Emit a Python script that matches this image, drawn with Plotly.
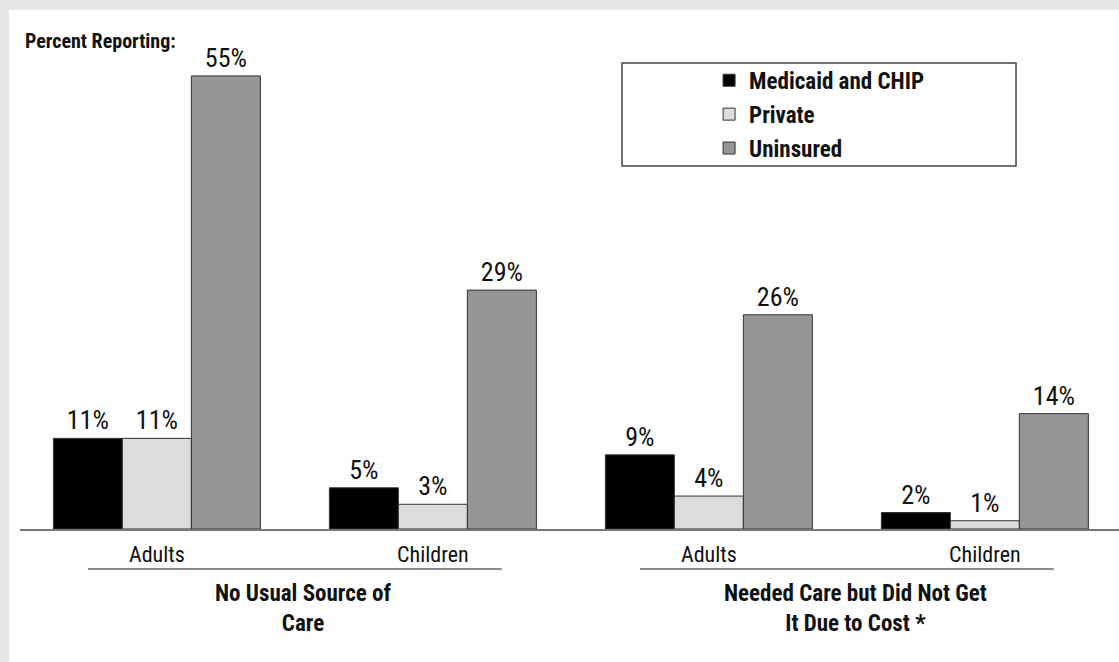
import plotly.graph_objects as go

categories = ["Adults", "Children", "Adults", "Children"]
series_names = ["Medicaid and CHIP", "Private", "Uninsured"]
medicaid = [11, 5, 9, 2]
private = [11, 3, 4, 1]
uninsured = [55, 29, 26, 14]
group_titles = ["No Usual Source of<br>Care", "Needed Care but Did Not Get<br>It Due to Cost *"]
group_centers = [0.5, 2.5]

colors = ["#000000", "#dcdcdc", "#969696"]
FONT = "Roboto Condensed, Liberation Sans Narrow, Arial Narrow, sans-serif"

W, H = 1119, 662
ML, MR, MT, MB = 20, 0, 10, 133
PW, PH = W - ML - MR, H - MT - MB

fig = go.Figure()
xs = list(range(len(categories)))
for i, (name, vals) in enumerate(zip(series_names, [medicaid, private, uninsured])):
    fig.add_trace(go.Bar(
        x=xs, y=vals, name=f"<b>{name}</b>",
        marker=dict(color=colors[i], line=dict(color="#333333", width=1)),
        text=[f"{v}%" for v in vals], textposition="outside",
        textfont=dict(family=FONT, size=26, color="#111111"),
        constraintext="none", cliponaxis=False,
        legendgroup=name,
    ))

shapes = [
    # white panel on gray frame
    dict(type="rect", xref="paper", yref="paper",
         x0=(9 - ML) / PW, x1=1.0,
         y0=-(MB + 5) / PH, y1=1.0,
         fillcolor="white", line=dict(width=0), layer="below"),
    # legend box
    dict(type="rect", xref="paper", yref="paper",
         x0=0.5478, x1=0.9063, y0=0.6994, y1=0.8979,
         fillcolor="rgba(0,0,0,0)", line=dict(color="#444444", width=1.5)),
]
annotations = [
    dict(text="<b>Percent Reporting:</b>", xref="paper", yref="paper",
         x=0.003, y=0.94, xanchor="left", yanchor="middle", showarrow=False,
         font=dict(family=FONT, size=20, color="#111111")),
]
for c, t in zip(group_centers, group_titles):
    shapes.append(dict(type="line", xref="x", yref="paper",
                       x0=c - 0.75, x1=c + 0.75, y0=-0.077, y1=-0.077,
                       line=dict(color="#666666", width=1.5)))
    annotations.append(dict(text=f"<b>{t}</b>", xref="x", yref="paper",
                            x=c + 0.03, y=-0.094, xanchor="center", yanchor="top",
                            showarrow=False, align="center",
                            font=dict(family=FONT, size=23, color="#111111")))

fig.update_layout(
    width=W, height=H,
    margin=dict(l=ML, r=MR, t=MT, b=MB),
    paper_bgcolor="#e6e7e9", plot_bgcolor="rgba(0,0,0,0)",
    barmode="group", bargap=0.25, bargroupgap=0,
    shapes=shapes, annotations=annotations,
    showlegend=True,
    legend=dict(x=0.627, y=0.906, xanchor="left", yanchor="top",
                bgcolor="rgba(0,0,0,0)", borderwidth=0,
                traceorder="grouped", tracegroupgap=1,
                font=dict(family=FONT, size=23, color="#111111"),
                itemclick=False, itemdoubleclick=False),
    font=dict(family=FONT),
)
fig.update_xaxes(range=[-0.496, 3.486], tickvals=xs, ticktext=categories,
                 showline=True, linecolor="#777777", linewidth=1.5,
                 ticks="", showgrid=False, zeroline=False,
                 ticklabelstandoff=5,
                 tickfont=dict(family=FONT, size=22, color="#111111"))
fig.update_yaxes(range=[0, 63], visible=False, showgrid=False, zeroline=False)

fig.write_html("out.html")
